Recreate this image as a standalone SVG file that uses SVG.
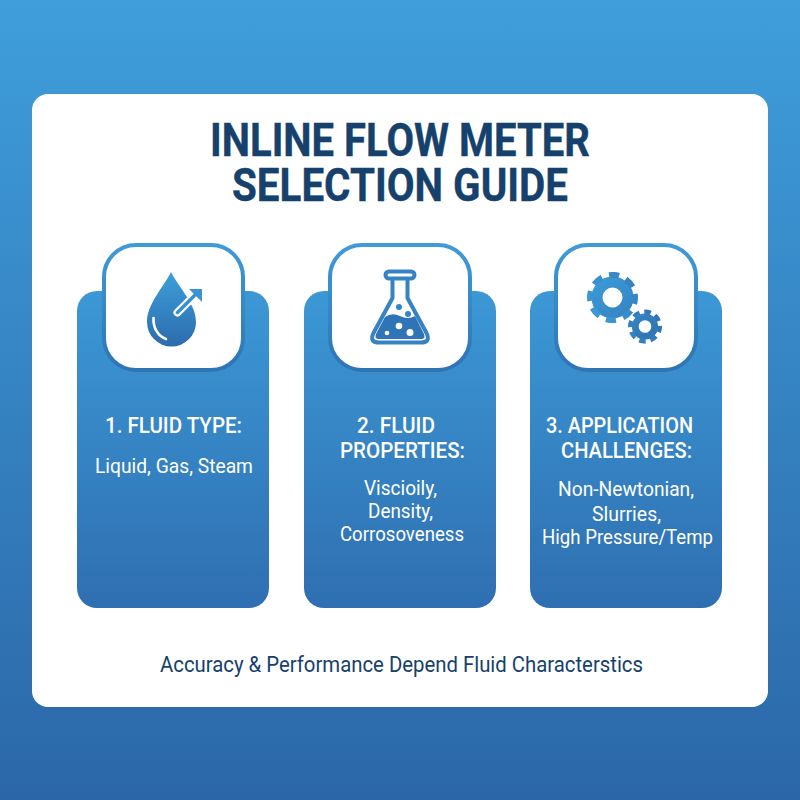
<svg xmlns="http://www.w3.org/2000/svg" width="800" height="800" viewBox="0 0 800 800">
<style>
.t{font-family:Roboto,"Liberation Sans",Arial,sans-serif;fill:#15416c}
.title{font-size:46px;font-weight:700;stroke:#15416c;stroke-width:.4px}
.foot{font-size:22px}
.h{font-family:Roboto,"Liberation Sans",Arial,sans-serif;font-size:22px;font-weight:500;fill:#fff}
.b{font-family:Roboto,"Liberation Sans",Arial,sans-serif;font-size:21px;fill:#fff}
.card{fill:url(#cardG)}
.box{fill:#fff;stroke:url(#boxG);stroke-width:4}
</style>
<defs>
<linearGradient id="bg" x1="0" y1="0" x2="0" y2="1"><stop offset="0" stop-color="#3f9edb"/><stop offset="1" stop-color="#2b67a8"/></linearGradient>
<linearGradient id="cardG" x1="0" y1="0" x2="0" y2="1"><stop offset="0" stop-color="#3c98d5"/><stop offset="1" stop-color="#2f6fb1"/></linearGradient>
<linearGradient id="boxG" x1="0" y1="0" x2="0" y2="1"><stop offset="0" stop-color="#3f9bd8"/><stop offset="1" stop-color="#2f74b4"/></linearGradient>
<linearGradient id="dropG" gradientUnits="userSpaceOnUse" x1="171" y1="272" x2="171" y2="346"><stop offset="0" stop-color="#3c9fd9"/><stop offset="1" stop-color="#2d6cae"/></linearGradient>
<linearGradient id="gearG" gradientUnits="userSpaceOnUse" x1="595" y1="272" x2="650" y2="344"><stop offset="0" stop-color="#3c9dd8"/><stop offset="1" stop-color="#3073b5"/></linearGradient>
</defs>
<rect id="background" width="800" height="800" fill="url(#bg)"/>
<rect id="panel" x="32" y="94" width="736" height="613" rx="16" fill="#fff"/>
<g id="title">
<text class="t title" x="210" y="156" textLength="380" lengthAdjust="spacingAndGlyphs">INLINE FLOW METER</text>
<text class="t title" x="232" y="201" textLength="336" lengthAdjust="spacingAndGlyphs">SELECTION GUIDE</text>
</g>
<g id="connectors"/>
<g id="node-fluid-type">
<rect class="card" x="77" y="291" width="192" height="317" rx="20"/>
<rect class="box" x="104" y="245" width="139" height="125" rx="32"/>
<path d="M171 272C163 288 147 304 147 322A24.5 24.5 0 0 0 196 322C196 304 179 288 171 272Z" fill="url(#dropG)"/>
<path d="M153.500 318C153 328 158 336 166 339" fill="none" stroke="#fff" stroke-width="2.600" stroke-linecap="round"/>
<path d="M177.500 312.500L192 298" stroke="#fff" stroke-width="8" stroke-linecap="round" fill="none"/>
<path d="M177.500 312.500L197 293" stroke="#3a90cf" stroke-width="3.500" stroke-linecap="round" fill="none"/>
<path d="M189 289H202V302Z" fill="#3a93d2"/>
<text class="h" x="105" y="433" textLength="137" lengthAdjust="spacingAndGlyphs">1. FLUID TYPE:</text>
<text class="b" x="95" y="473" textLength="158" lengthAdjust="spacingAndGlyphs">Liquid, Gas, Steam</text>
</g>
<g id="node-fluid-properties">
<rect class="card" x="304" y="291" width="192" height="317" rx="20"/>
<rect class="box" x="330" y="245" width="140" height="125" rx="32"/>
<g fill="none" stroke="#3583c3" stroke-width="4" stroke-linejoin="round">
<rect x="385.500" y="271.500" width="29" height="7" rx="3.500"/>
<path d="M392.500 278V298L373.500 333Q369 342.500 379 342.500H421Q431 342.500 426.500 333L407.500 298V278"/>
</g>
<path d="M385 317Q392 312 400 316T415 316L424 334Q426 339 421 339H379Q374 339 376 334Z" fill="#2f74b6"/>
<g fill="#fff"><circle cx="399" cy="326" r="3.300"/><circle cx="410" cy="332.500" r="3.500"/><circle cx="387" cy="333" r="2.300"/></g>
<g fill="#3584c4"><circle cx="399" cy="307" r="3"/><circle cx="408" cy="314" r="3"/></g>
<text class="h" x="357" y="433" textLength="78" lengthAdjust="spacingAndGlyphs">2. FLUID</text>
<text class="h" x="340" y="458" textLength="125" lengthAdjust="spacingAndGlyphs">PROPERTIES:</text>
<text class="b" x="364" y="495" textLength="73" lengthAdjust="spacingAndGlyphs">Viscioily,</text>
<text class="b" x="368" y="518" textLength="65" lengthAdjust="spacingAndGlyphs">Density,</text>
<text class="b" x="340" y="541" textLength="124" lengthAdjust="spacingAndGlyphs">Corrosoveness</text>
</g>
<g id="node-application-challenges">
<rect class="card" x="530" y="291" width="192" height="317" rx="20"/>
<rect class="box" x="556" y="245" width="140" height="125" rx="32"/>
<g fill="none" stroke="url(#gearG)">
<circle cx="612.500" cy="297.500" r="15.500" stroke-width="11"/>
<circle cx="612.500" cy="297.500" r="22.500" stroke-width="6" pathLength="80" stroke-dasharray="5.800 4.200" stroke-dashoffset="2.900" transform="rotate(-86 612.500 297.500)"/>
<circle cx="645" cy="326.500" r="9.700" stroke-width="6.800"/>
<circle cx="645" cy="326.500" r="14.800" stroke-width="4.400" pathLength="80" stroke-dasharray="5.800 4.200" stroke-dashoffset="2.900" transform="rotate(-80 645 326.500)"/>
</g>
<text class="h" x="546" y="433" textLength="147" lengthAdjust="spacingAndGlyphs">3. APPLICATION</text>
<text class="h" x="561" y="458" textLength="131" lengthAdjust="spacingAndGlyphs">CHALLENGES:</text>
<text class="b" x="558" y="496" textLength="136" lengthAdjust="spacingAndGlyphs">Non-Newtonian,</text>
<text class="b" x="592" y="521" textLength="69" lengthAdjust="spacingAndGlyphs">Slurries,</text>
<text class="b" x="542" y="544" textLength="171" lengthAdjust="spacingAndGlyphs">High Pressure/Temp</text>
</g>
<text id="footer" class="t foot" x="160" y="672" textLength="483" lengthAdjust="spacingAndGlyphs">Accuracy &amp; Performance Depend Fluid Characterstics</text>
</svg>
